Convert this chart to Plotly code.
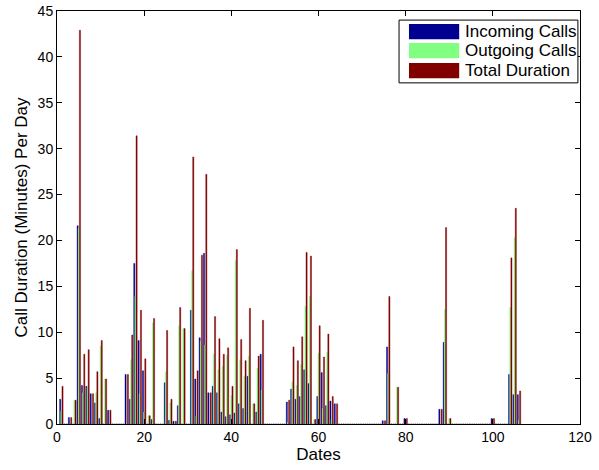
import plotly.graph_objects as go

days = list(range(1, 107))

incoming = [2.7, 0, 0.7, 0, 21.6, 4.2, 4.1, 3.3, 2.3, 0.6,
            0, 1.5, 0, 0, 0, 5.4, 2.7, 17.5, 9.1, 5.8,
            0, 0.5, 0, 0, 4.5, 0.4, 0.3, 2.0, 0, 0,
            12.4, 4.9, 9.4, 18.6, 3.4, 4.1, 3.4, 1.3, 0.8, 1.0,
            1.2, 2.2, 1.7, 5.2, 0, 1.3, 7.6, 0, 0, 0,
            0, 0, 2.4, 3.8, 2.7, 3.0, 5.9, 4.4, 0, 3.0,
            5.6, 2.0, 2.5, 2.2, 0, 0, 0, 0, 0, 0,
            0, 0, 0, 0, 0.35, 8.4, 0, 0, 0, 0.6,
            0, 0, 0, 0, 0, 0, 0, 1.6, 8.9, 0,
            0, 0, 0, 0, 0, 0, 0, 0, 0, 0.6,
            0, 0, 0, 5.4, 3.2, 3.2]

outgoing = [1.4, 0, 0, 2.6, 21.3, 3.4, 4.0, 0, 3.4, 8.5,
            4.9, 0, 0, 0, 0, 0, 7.0, 13.9, 3.3, 1.3,
            0.9, 11.0, 0, 0, 5.7, 2.3, 0, 10.7, 10.4, 0,
            16.7, 0.9, 9.0, 8.6, 0, 7.6, 5.9, 6.3, 7.5, 3.1,
            17.8, 7.0, 5.2, 7.4, 2.2, 6.1, 3.7, 0, 0, 0,
            0, 0, 0.2, 4.6, 4.2, 6.5, 12.8, 13.9, 0.5, 7.7,
            1.7, 7.8, 0.5, 0, 0, 0, 0, 0, 0, 0,
            0, 0, 0, 0, 0, 5.5, 0, 4.0, 0, 0,
            0, 0, 0, 0, 0, 0, 0, 0, 12.5, 0.6,
            0, 0, 0, 0, 0, 0, 0, 0, 0, 0,
            0, 0, 0, 12.7, 20.3, 0.4]

total = [4.1, 0, 0.7, 2.6, 42.9, 7.6, 8.1, 3.3, 5.7, 9.1,
         4.9, 1.5, 0, 0, 0, 5.4, 9.7, 31.4, 12.4, 7.1,
         0.9, 11.5, 0, 0, 10.2, 2.7, 0.3, 12.7, 10.4, 0,
         29.1, 5.8, 18.4, 27.2, 3.4, 11.7, 9.3, 7.6, 8.3, 4.1,
         19.0, 9.2, 6.9, 12.6, 2.2, 7.4, 11.3, 0, 0, 0,
         0, 0, 2.6, 8.4, 6.9, 9.5, 18.7, 18.3, 0.5, 10.7,
         7.3, 9.8, 3.0, 2.2, 0, 0, 0, 0, 0, 0,
         0, 0, 0, 0, 0.35, 13.9, 0, 4.0, 0, 0.6,
         0, 0, 0, 0, 0, 0, 0, 1.6, 21.4, 0.6,
         0, 0, 0, 0, 0, 0, 0, 0, 0, 0.6,
         0, 0, 0, 18.1, 23.5, 3.6]

series_names = ["Incoming Calls", "Outgoing Calls", "Total Duration"]
colors = ["#000090", "#80FF80", "#800000"]

FONT = "Liberation Sans, Arial, Helvetica, sans-serif"

fig = go.Figure()
for name, vals, col in zip(series_names, [incoming, outgoing, total], colors):
    fig.add_trace(go.Bar(
        x=days, y=vals, name=name, showlegend=False,
        marker=dict(color=col, line=dict(color=col, width=0.4)),
    ))

# MATLAB-style legend box with wide colour swatches (paper coordinates)
shapes = [dict(type="rect", xref="paper", yref="paper",
               x0=0.654, x1=0.996, y0=0.826, y1=0.978,
               line=dict(color="black", width=1), fillcolor="white", layer="above")]
annotations = []
row_tops = [0.9685, 0.9225, 0.8741]
for i, (name, col) in enumerate(zip(series_names, colors)):
    top = row_tops[i]
    shapes.append(dict(type="rect", xref="paper", yref="paper",
                       x0=0.673, x1=0.769, y0=top - 0.037, y1=top,
                       line=dict(width=0), fillcolor=col, layer="above"))
    annotations.append(dict(xref="paper", yref="paper", x=0.776, y=top - 0.0185,
                            xanchor="left", yanchor="middle", text=name, showarrow=False,
                            font=dict(family=FONT, size=17, color="black")))

axis_common = dict(
    showgrid=False, zeroline=False, showline=True, linecolor="black",
    linewidth=1, mirror="ticks", ticks="inside", ticklen=5,
    tickcolor="black", tickfont=dict(family=FONT, size=14, color="black"),
)

fig.update_layout(
    width=599, height=470, autosize=False,
    margin=dict(l=57, r=19, t=11, b=46, autoexpand=False),
    paper_bgcolor="white", plot_bgcolor="white",
    barmode="group", bargap=0.2, bargroupgap=0,
    font=dict(family=FONT, size=14, color="black"),
    xaxis=dict(range=[0, 120], tickvals=[0, 20, 40, 60, 80, 100, 120],
               title=dict(text="Dates", font=dict(family=FONT, size=17), standoff=3),
               **axis_common),
    yaxis=dict(range=[0, 45], tickvals=[0, 5, 10, 15, 20, 25, 30, 35, 40, 45],
               title=dict(text="Call Duration (Minutes) Per Day", font=dict(family=FONT, size=17), standoff=5),
               **axis_common),
    shapes=shapes,
    annotations=annotations,
    showlegend=False,
)

fig.write_html(
    "out.html",
    config={"displayModeBar": False, "responsive": False},
    post_script="document.body.style.margin='0';document.body.style.overflow='hidden';",
)
